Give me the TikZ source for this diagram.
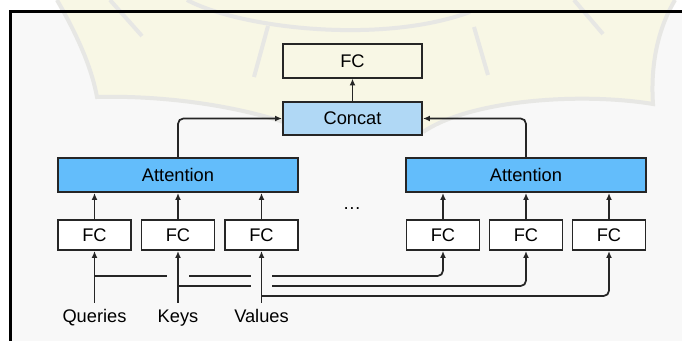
\documentclass[tikz,border=0pt]{standalone}
\usepackage{fontspec}
\setmainfont{Liberation Sans}
\usetikzlibrary{arrows.meta,calc}
\definecolor{bgcol}{RGB}{248,248,248}
\definecolor{creamcol}{RGB}{248,247,229}
\definecolor{markcol}{RGB}{231,231,228}
\definecolor{attcol}{RGB}{99,189,251}
\definecolor{catcol}{RGB}{176,216,245}
\definecolor{edgecol}{RGB}{38,38,38}
\begin{document}
\begin{tikzpicture}[x=0.75pt,y=-0.75pt,
  font=\fontsize{13.7}{16}\selectfont,
  box/.style={draw=edgecol,line width=1.4pt,inner sep=0pt},
  fcsmall/.style={box,fill=white,minimum width=54.8pt,minimum height=22.6pt},
  attbox/.style={box,fill=attcol,minimum width=180pt,minimum height=25.6pt},
  topbox/.style={box,minimum width=104.3pt,minimum height=24.9pt},
  lbl/.style={anchor=base,text height=10pt,text depth=3pt,inner sep=5pt},
  wire/.style={draw=edgecol,line width=1.3pt},
  arr/.style={wire,-{Latex[length=5.2pt,width=4.4pt]}},
  elbow/.style={rounded corners=4}]
  \useasboundingbox (0,0) rectangle (682,341);

  \fill[white] (0,0) rectangle (682,341);
  \fill[bgcol] (10,12) rectangle (682,341);
  \fill[creamcol] (57,0) .. controls (80,40) and (92,70) .. (97,97)
    .. controls (170,95) and (250,108) .. (300,128) -- (423,132)
    .. controls (470,100) and (580,92) .. (653,104)
    .. controls (650,60) and (660,25) .. (675,0) -- cycle;
  \draw[markcol,line width=3pt] (57,0) .. controls (80,40) and (92,70) .. (97,97)
    .. controls (170,95) and (250,108) .. (300,128);
  \draw[markcol,line width=3pt] (423,132) .. controls (470,100) and (580,92) .. (653,104)
    .. controls (650,60) and (660,25) .. (675,0);
  \draw[markcol,line width=3pt] (110,0) -- (142,36);
  \draw[markcol,line width=3pt] (268,26) -- (254,77);
  \draw[markcol,line width=3pt] (474,27) -- (488,75);
  \draw[markcol,line width=3pt] (574,0) -- (603,34);
  \draw[markcol,line width=3pt] (187,0) .. controls (240,28) and (380,45) .. (470,12);
  \draw[black,line width=2pt] (9,11.5) -- (682,11.5);
  \draw[black,line width=2.2pt] (10.7,10.5) -- (10.7,341);

  \node[topbox,fill=creamcol] (fcout) at (352.5,61) {FC};
  \node[topbox,fill=catcol] (concat) at (352.5,118.5) {Concat};
  \node[attbox] (attl) at (178,175) {Attention};
  \node[attbox] (attr) at (526,175) {Attention};
  \node (dots) at (352,209) {\textellipsis};

  \node[fcsmall] (fq1) at (94.5,235) {FC};
  \node[fcsmall] (fk1) at (178,235) {FC};
  \node[fcsmall] (fv1) at (261.5,235) {FC};
  \node[fcsmall] (fq2) at (443,235) {FC};
  \node[fcsmall] (fk2) at (526,235) {FC};
  \node[fcsmall] (fv2) at (609,235) {FC};

  \node[lbl] (q) at (94.5,323) {Queries};
  \node[lbl] (k) at (178,323) {Keys};
  \node[lbl] (v) at (261.5,323) {Values};

  \coordinate (yq) at (0,276);
  \coordinate (yk) at (0,286);
  \coordinate (yv) at (0,296);

  \draw[arr] (concat) -- (fcout);
  \draw[arr,elbow] (attl.north) |- (concat.west);
  \draw[arr,elbow] (attr.north) |- (concat.east);

  \foreach \f/\a in {fq1/attl,fk1/attl,fv1/attl,fq2/attr,fk2/attr,fv2/attr}
    \draw[arr] (\f.north) -- (\f.north |- \a.south);
  \foreach \l/\f in {q/fq1,k/fk1,v/fv1}
    \draw[arr] (\l.north) -- (\f.south);

  \draw[wire] (fq1 |- yq) -- ($(fk1 |- yq)+(-11,0)$);
  \draw[wire] ($(fk1 |- yq)+(11,0)$) -- ($(fv1 |- yq)+(-10.5,0)$);
  \draw[arr,elbow] ($(fv1 |- yq)+(10.5,0)$) -| (fq2.south);
  \draw[wire] (fk1 |- yk) -- ($(fv1 |- yk)+(-10.5,0)$);
  \draw[arr,elbow] ($(fv1 |- yk)+(10.5,0)$) -| (fk2.south);
  \draw[arr,elbow] (fv1 |- yv) -| (fv2.south);
\end{tikzpicture}
\end{document}
